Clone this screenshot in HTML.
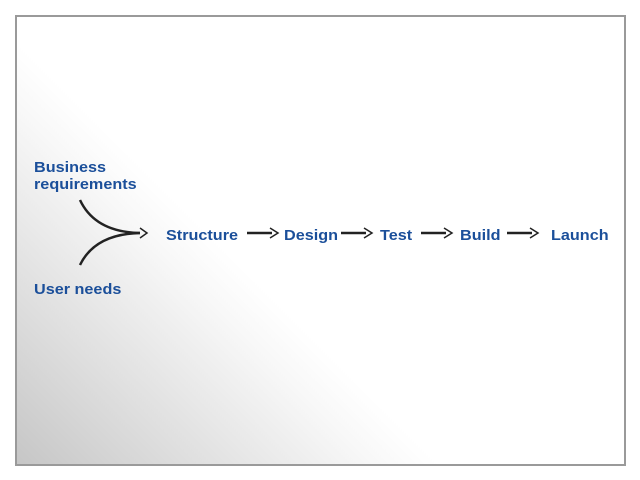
<!DOCTYPE html>
<html><head><style>
html,body{margin:0;padding:0;width:640px;height:480px;background:#fff;overflow:hidden}
.f{position:absolute;left:15px;top:15px;width:607px;height:447px;border:2px solid #9a9a9a;
background:linear-gradient(45deg,#c6c6c6 0%,#d8d8d8 12%,#ebebeb 25%,#f8f8f8 34%,#fff 40%,#fff 100%);}
.t{position:absolute;font-family:"Liberation Sans",sans-serif;font-weight:bold;font-size:15px;color:#1b4f9a;line-height:17px;white-space:nowrap;transform:scaleX(1.08);transform-origin:0 0}
svg{position:absolute;left:0;top:0}
</style></head><body>
<div class="f"></div>
<div class="t" style="left:34px;top:159px">Business<br>requirements</div>
<div class="t" style="left:34px;top:281px">User needs</div>
<div class="t" style="left:166px;top:227px">Structure</div>
<div class="t" style="left:284px;top:227px">Design</div>
<div class="t" style="left:380px;top:227px">Test</div>
<div class="t" style="left:460px;top:227px">Build</div>
<div class="t" style="left:551px;top:227px">Launch</div>
<svg width="640" height="480" fill="none" stroke="#222" stroke-width="2.5">
<path d="M80 200 Q95 232 140 233"/>
<path d="M80 265 Q95 234 140 233"/>
<path d="M140 228 L147 233 L140 238" stroke-width="1.5"/>
<g stroke-width="2.5">
<path d="M247 233 H272"/><path d="M341 233 H366"/><path d="M421 233 H446"/><path d="M507 233 H532"/>
</g>
<g stroke-width="1.5">
<path d="M270 228 L278 233 L270 238"/><path d="M364 228 L372 233 L364 238"/><path d="M444 228 L452 233 L444 238"/><path d="M530 228 L538 233 L530 238"/>
</g>
</svg>
</body></html>
